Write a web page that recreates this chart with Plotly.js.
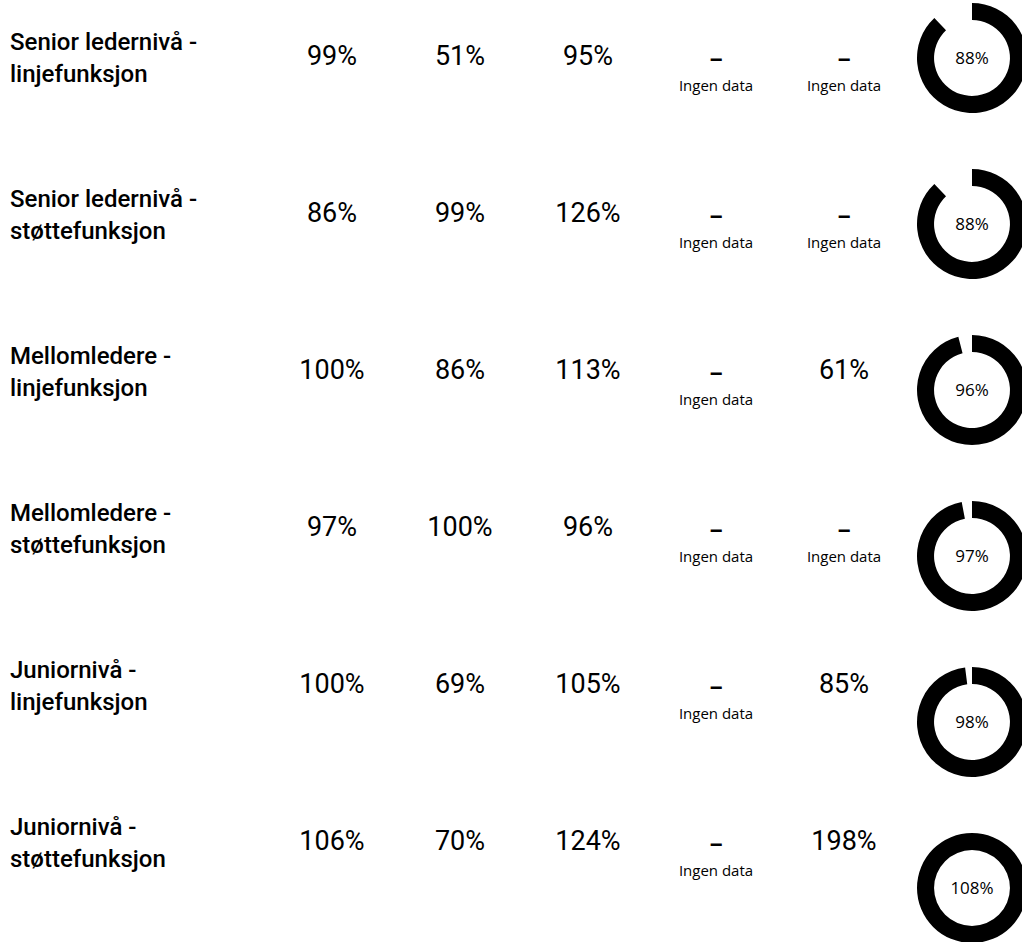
<!DOCTYPE html>
<html>
<head>
<meta charset="utf-8">
<script src="https://cdn.plot.ly/plotly-3.0.1.min.js"></script>
<style>
html, body { margin: 0; padding: 0; background: #fff; overflow: hidden; width: 1022px; height: 942px; }
#chart { width: 1040px; height: 960px; }
</style>
</head>
<body>
<div id="chart"></div>
<script>
// ---- data ----
const rowLabels = [
  'Senior ledernivå -<br>linjefunksjon',
  'Senior ledernivå -<br>støttefunksjon',
  'Mellomledere -<br>linjefunksjon',
  'Mellomledere -<br>støttefunksjon',
  'Juniornivå -<br>linjefunksjon',
  'Juniornivå -<br>støttefunksjon'
];
const col1 = [99, 86, 100, 97, 100, 106];
const col2 = [51, 99, 86, 100, 69, 70];
const col3 = [95, 126, 113, 96, 105, 124];
const col4 = [null, null, null, null, null, null];
const col5 = [null, null, 61, null, 85, 198];
const donutValues = [88, 88, 96, 97, 98, 108];
const missingDash = '–';
const missingText = 'Ingen data';

// ---- layout geometry ----
const W = 1040, H = 960;
const firstRowPx = 58, rowPx = 157, donutRowPx = 166;
const firstColPx = 332, colPx = 128;
const labelPx = 10;
const donutR = 55;
const dashOffsetPx = 4, ingenOffsetPx = 29;

const rowIdx = rowLabels.map((_, i) => i);
const columns = [col1, col2, col3, col4, col5];

const traces = [];
traces.push({
  type: 'scatter', mode: 'text', hoverinfo: 'skip', showlegend: false,
  x: rowIdx.map(() => (labelPx - firstColPx) / colPx),
  y: rowIdx.map(i => i + 2 / rowPx),
  text: rowLabels,
  textposition: 'middle right',
  textfont: { family: 'Roboto', size: 24, weight: 500, color: '#000' }
});
columns.forEach((col, c) => {
  const present = rowIdx.filter(i => col[i] !== null);
  const missing = rowIdx.filter(i => col[i] === null);
  traces.push({
    type: 'scatter', mode: 'text', hoverinfo: 'skip', showlegend: false,
    x: present.map(() => c), y: present,
    text: present.map(i => col[i] + '%'),
    textposition: 'middle center',
    textfont: { family: 'Roboto', size: 27, weight: 400, color: '#000' }
  });
  traces.push({
    type: 'scatter', mode: 'text', hoverinfo: 'skip', showlegend: false,
    x: missing.map(() => c), y: missing.map(i => i + dashOffsetPx / rowPx),
    text: missing.map(() => missingDash),
    textposition: 'middle center',
    textfont: { family: 'Roboto', size: 22, weight: 700, color: '#000' }
  });
  traces.push({
    type: 'scatter', mode: 'text', hoverinfo: 'skip', showlegend: false,
    x: missing.map(() => c), y: missing.map(i => i + ingenOffsetPx / rowPx),
    text: missing.map(() => missingText),
    textposition: 'middle center',
    textfont: { family: 'Open Sans', size: 15, color: '#000' }
  });
});
const donutCx = firstColPx + colPx * 5;
donutValues.forEach((v, i) => {
  const cy = firstRowPx + donutRowPx * i;
  const yc = 1 - cy / H;
  traces.push({
    type: 'pie', sort: false, direction: 'clockwise', rotation: 0,
    values: [v, Math.max(0, 100 - v)],
    hole: 0.69, textinfo: 'none', hoverinfo: 'skip', showlegend: false,
    marker: { colors: ['#000', 'rgba(0,0,0,0)'], line: { width: 0 } },
    domain: { x: [(donutCx - donutR) / W, (donutCx + donutR) / W], y: [yc - donutR / H, yc + donutR / H] },
    title: { text: v + '%', position: 'middle center', font: { family: 'Open Sans', size: 17, color: '#000' } }
  });
});

const layout = {
  width: W, height: H,
  margin: { l: 0, r: 0, t: 0, b: 0 },
  paper_bgcolor: '#fff', plot_bgcolor: '#fff',
  showlegend: false,
  xaxis: { visible: false, fixedrange: true, range: [-firstColPx / colPx, (W - firstColPx) / colPx] },
  yaxis: { visible: false, fixedrange: true, range: [(H - firstRowPx) / rowPx, -firstRowPx / rowPx] }
};
Plotly.newPlot('chart', traces, layout, { staticPlot: true, displayModeBar: false });
</script>
</body>
</html>
